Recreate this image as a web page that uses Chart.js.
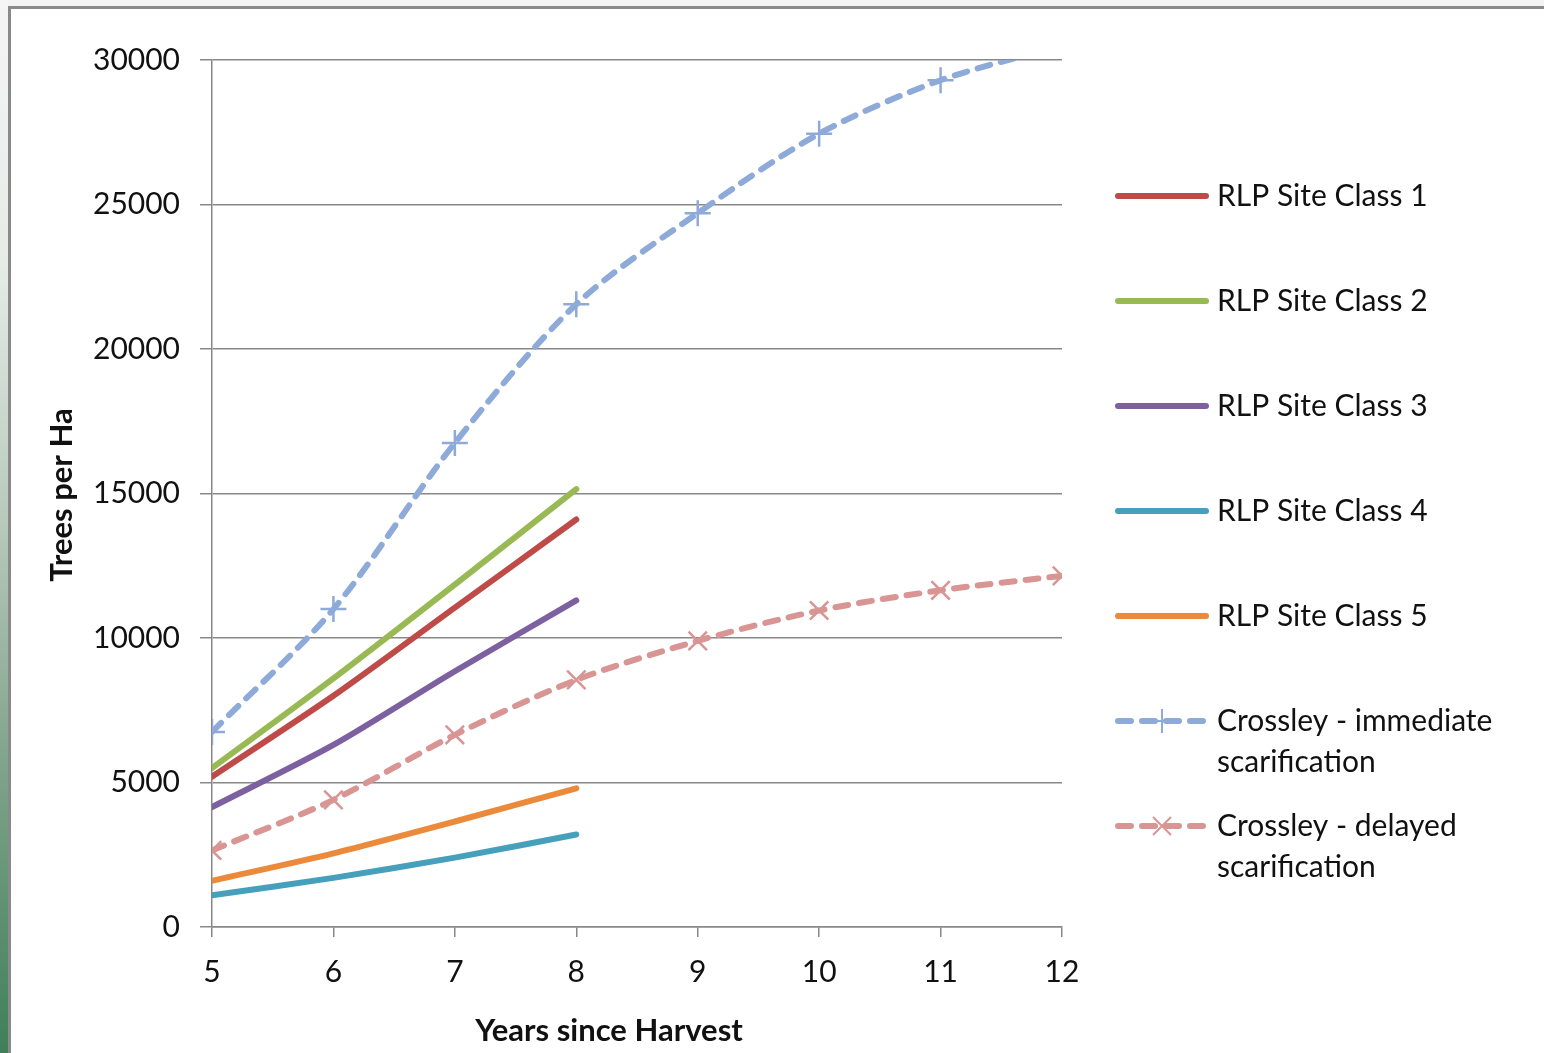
<!DOCTYPE html>
<html>
<head>
<meta charset="utf-8">
<script src="https://cdn.jsdelivr.net/npm/chart.js@4/dist/chart.umd.min.js"></script>
<style>
    html, body { margin: 0; padding: 0; }
    body { width: 1544px; height: 1053px; background: #f3f3f3; position: relative; overflow: hidden; }
    #strip { position: absolute; left: 0; top: 0; width: 8px; height: 1053px;
        background: linear-gradient(to bottom, #f5f5f5 0%, #e6ebe7 25%, #b6c9bb 50%, #86a790 70%, #3f7f58 100%); }
    #frame { position: absolute; left: 8px; top: 6px; width: 1560px; height: 1100px;
        background: #fff; border-left: 3px solid #8a8a8a; border-top: 3px solid #8a8a8a; }
    #holder { position: absolute; left: 0; top: 0; width: 1544px; height: 1053px; }
</style>
</head>
<body>
<div id="strip"></div>
<div id="frame"></div>
<div id="holder"><canvas id="diagram"></canvas></div>
<script type="text/javascript">
    // values
    var years = [5, 6, 7, 8, 9, 10, 11, 12];
    var rlp1 = [5200, 8000, 11050, 14100];
    var rlp2 = [5500, 8600, 11850, 15150];
    var rlp3 = [4150, 6300, 8850, 11300];
    var rlp4 = [1100, 1700, 2400, 3200];
    var rlp5 = [1600, 2550, 3650, 4800];
    var crossleyImmediate = [6750, 11000, 16750, 21550, 24700, 27450, 29300, 30500];
    var crossleyDelayed = [2650, 4400, 6650, 8550, 9900, 10950, 11650, 12150];
    var yTicks = [0, 5000, 10000, 15000, 20000, 25000, 30000];

    var fontName = "Lato, 'Open Sans', sans-serif";

    function pts(vals) {
        var out = [];
        for (var i = 0; i < vals.length; i++) {
            out.push({x: years[i], y: vals[i]});
        }
        return out;
    }

    function solid(label, vals, colour) {
        return {
            label: label,
            data: pts(vals),
            borderColor: colour,
            backgroundColor: colour,
            borderWidth: 6,
            pointRadius: 0,
            tension: 0.25,
            borderCapStyle: 'round',
            fill: false
        };
    }

    function dashed(label, vals, colour, marker) {
        return {
            label: label,
            data: pts(vals),
            borderColor: colour,
            backgroundColor: colour,
            borderWidth: 6,
            borderDash: [13, 11],
            borderCapStyle: 'round',
            pointStyle: marker,
            pointRadius: 13,
            pointBorderWidth: 2.5,
            pointBorderColor: colour,
            tension: 0.3,
            fill: false
        };
    }

    var datasets = [
        solid('RLP Site Class 1', rlp1, '#be4b48'),
        solid('RLP Site Class 2', rlp2, '#98b954'),
        solid('RLP Site Class 3', rlp3, '#7d60a0'),
        solid('RLP Site Class 4', rlp4, '#46a0bb'),
        solid('RLP Site Class 5', rlp5, '#ec8a3c'),
        dashed(['Crossley - immediate', 'scarification'], crossleyImmediate, '#8eaad8', 'cross'),
        dashed(['Crossley - delayed', 'scarification'], crossleyDelayed, '#d99594', 'crossRot')
    ];

    // legend and axis titles drawn by hand, Excel style
    var extras = {
        id: 'extras',
        afterDraw: function(chart) {
            var ctx = chart.ctx;
            var rows = [196, 301, 406, 511, 616, 721, 826];
            ctx.save();
            chart.data.datasets.forEach(function(ds, i) {
                var y = rows[i];
                ctx.strokeStyle = ds.borderColor;
                ctx.lineWidth = 6;
                ctx.lineCap = 'round';
                ctx.setLineDash(ds.borderDash ? [13, 11] : []);
                ctx.beginPath();
                ctx.moveTo(1118, y);
                ctx.lineTo(1206, y);
                ctx.stroke();
                ctx.setLineDash([]);
                if (ds.pointStyle) {
                    ctx.lineWidth = 2;
                    ctx.lineCap = 'butt';
                    ctx.beginPath();
                    if (ds.pointStyle == 'cross') {
                        ctx.moveTo(1162 - 12, y); ctx.lineTo(1162 + 12, y);
                        ctx.moveTo(1162, y - 12); ctx.lineTo(1162, y + 12);
                    } else {
                        ctx.moveTo(1162 - 9, y - 9); ctx.lineTo(1162 + 9, y + 9);
                        ctx.moveTo(1162 - 9, y + 9); ctx.lineTo(1162 + 9, y - 9);
                    }
                    ctx.stroke();
                }
                ctx.fillStyle = '#111';
                ctx.font = '30px ' + fontName;
                ctx.textBaseline = 'middle';
                var lines = Array.isArray(ds.label) ? ds.label : [ds.label];
                lines.forEach(function(t, j) {
                    ctx.fillText(t, 1217, y + j * 41);
                });
            });

            ctx.fillStyle = '#111';
            ctx.font = 'bold 31px ' + fontName;
            ctx.textAlign = 'center';
            ctx.textBaseline = 'middle';
            ctx.fillText('Years since Harvest', 609, 1031);
            ctx.translate(62, 495);
            ctx.rotate(-Math.PI / 2);
            ctx.fillText('Trees per Ha', 0, 0);
            ctx.restore();
        }
    };

    var myChart = new Chart($id('diagram'), {
        type: 'line',
        data: { datasets: datasets },
        options: {
            responsive: true,
            maintainAspectRatio: false,
            animation: false,
            events: [],
            layout: { padding: { left: 40, right: 482, top: 60, bottom: 0 } },
            plugins: {
                legend: { display: false },
                tooltip: { enabled: false }
            },
            scales: {
                x: {
                    type: 'linear',
                    min: 5,
                    max: 12,
                    afterBuildTicks: function(scale) {
                        scale.ticks = years.map(function(v) { return {value: v}; });
                    },
                    afterFit: function(scale) { scale.height = 126; },
                    grid: {
                        drawOnChartArea: false,
                        drawTicks: true,
                        tickLength: 10,
                        color: '#888',
                        lineWidth: 1.5
                    },
                    border: { color: '#888', width: 1.5 },
                    ticks: {
                        color: '#111',
                        font: { family: fontName, size: 30 },
                        padding: 17,
                        maxRotation: 0
                    }
                },
                y: {
                    min: 0,
                    max: 30000,
                    afterBuildTicks: function(scale) {
                        scale.ticks = yTicks.map(function(v) { return {value: v}; });
                    },
                    afterFit: function(scale) { scale.width = 172; },
                    grid: {
                        color: '#888',
                        lineWidth: 1.5,
                        tickLength: 12
                    },
                    border: { color: '#888', width: 1.5 },
                    ticks: {
                        color: '#111',
                        font: { family: fontName, size: 30 },
                        padding: 20,
                        callback: function(v) { return String(v); }
                    }
                }
            }
        },
        plugins: [extras]
    });

    function $id(id) { return document.getElementById(id); }
</script>
</body>
</html>
